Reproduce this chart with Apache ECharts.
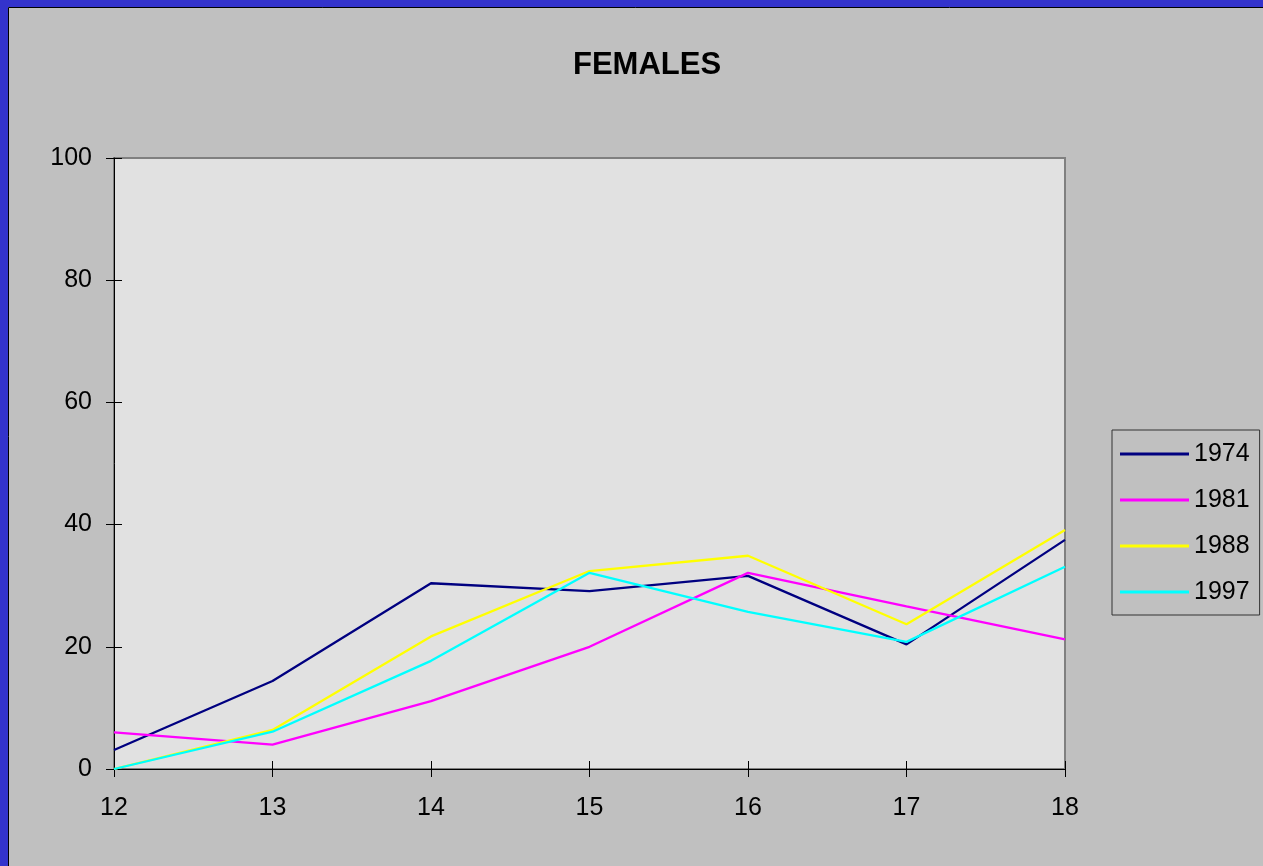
<!DOCTYPE html>
<html>
<head>
<meta charset="utf-8">
<script src="https://cdn.jsdelivr.net/npm/echarts@6/dist/echarts.min.js"></script>
<style>
  html, body { margin: 0; padding: 0; background: #c0c0c0; }
  #femaleChart { width: 1263px; height: 866px; }
</style>
</head>
<body>
<div id="femaleChart"></div>
<script>
// ages on the x axis
var ages = ['12', '13', '14', '15', '16', '17', '18'];
// survey years
var years = ['1974', '1981', '1988', '1997'];
var f1974 = [3.1, 14.4, 30.4, 29.1, 31.6, 20.4, 37.5];
var f1981 = [6.0, 4.0, 11.1, 20.0, 32.1, 26.6, 21.2];
var f1988 = [0, 6.4, 21.7, 32.4, 34.9, 23.7, 39.1];
var f1997 = [0, 6.1, 17.7, 32.1, 25.7, 20.8, 33.1];
var yearColors = ['#000080', '#ff00ff', '#ffff00', '#00ffff'];

var femaleChart = echarts.init(document.getElementById('femaleChart'));
var font = 'Liberation Sans, Arial, sans-serif';

function makeLine(name, data, color) {
    return {
        name: name,
        type: 'line',
        data: data,
        symbol: 'none',
        animation: false,
        lineStyle: { color: color, width: 2.3 },
        itemStyle: { color: color }
    };
}

var option = {
    backgroundColor: '#c0c0c0',
    textStyle: { fontFamily: font },
    title: {
        text: 'FEMALES',
        left: 573,
        top: 50,
        padding: 0,
        textStyle: { fontFamily: font, fontSize: 31, fontWeight: 'bold', color: '#000' }
    },
    // blue frame on top / left edge
    graphic: [
        { type: 'rect', shape: { x: 0, y: 0, width: 1263, height: 7 }, style: { fill: '#3333cc' }, silent: true },
        { type: 'rect', shape: { x: 0, y: 0, width: 8, height: 866 }, style: { fill: '#3333cc' }, silent: true },
        { type: 'line', shape: { x1: 8.5, y1: 7.5, x2: 1263, y2: 7.5 }, style: { stroke: '#000', lineWidth: 1 }, silent: true },
        { type: 'line', shape: { x1: 8.5, y1: 7.5, x2: 8.5, y2: 866 }, style: { stroke: '#000', lineWidth: 1 }, silent: true }
    ],
    legend: {
        data: years,
        orient: 'vertical',
        left: 1112,
        top: 430,
        padding: [11, 10, 10, 8],
        icon: 'rect',
        itemWidth: 69,
        itemHeight: 3,
        itemGap: 20,
        borderColor: '#333',
        borderWidth: 1,
        backgroundColor: '#c0c0c0',
        textStyle: { fontFamily: font, fontSize: 25, lineHeight: 26, color: '#000' }
    },
    grid: {
        left: 114,
        top: 158,
        right: 198,
        bottom: 97,
        show: true,
        backgroundColor: '#e1e1e1',
        borderColor: '#808080',
        borderWidth: 2
    },
    xAxis: [{
        type: 'category',
        data: ages,
        boundaryGap: false,
        position: 'bottom',
        axisLine: { onZero: false, lineStyle: { color: '#000', width: 1 } },
        axisTick: { alignWithLabel: true, length: 8, lineStyle: { color: '#000' } },
        axisLabel: { color: '#000', fontSize: 25, margin: 27, fontFamily: font },
        splitLine: { show: false }
    }, {
        // inner half of the crossing ticks
        type: 'category',
        data: ages,
        boundaryGap: false,
        position: 'bottom',
        axisLine: { show: false, onZero: false },
        axisTick: { inside: true, length: 8, lineStyle: { color: '#000' } },
        axisLabel: { show: false },
        splitLine: { show: false }
    }],
    yAxis: [{
        type: 'value',
        min: 0,
        max: 100,
        interval: 20,
        position: 'left',
        axisLine: { show: true, onZero: false, lineStyle: { color: '#000', width: 1 } },
        axisTick: { show: true, length: 8, lineStyle: { color: '#000' } },
        axisLabel: { color: '#000', fontSize: 25, margin: 22, fontFamily: font },
        splitLine: { show: false }
    }, {
        type: 'value',
        min: 0,
        max: 100,
        interval: 20,
        position: 'left',
        axisLine: { show: false, onZero: false },
        axisTick: { show: true, inside: true, length: 8, lineStyle: { color: '#000' } },
        axisLabel: { show: false },
        splitLine: { show: false }
    }],
    series: [
        makeLine(years[0], f1974, yearColors[0]),
        makeLine(years[1], f1981, yearColors[1]),
        makeLine(years[2], f1988, yearColors[2]),
        makeLine(years[3], f1997, yearColors[3])
    ]
};
femaleChart.setOption(option);
</script>
</body>
</html>
